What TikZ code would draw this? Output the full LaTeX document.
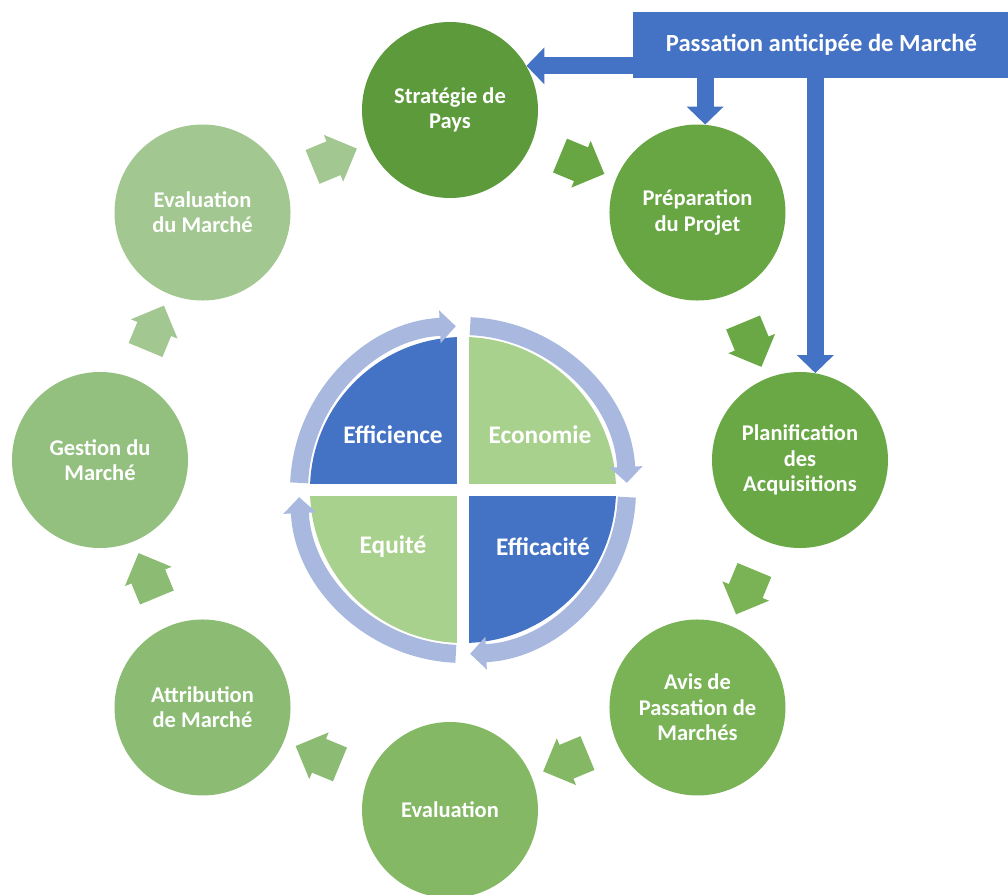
\documentclass[tikz,border=0pt]{standalone}
\usepackage{fontspec}
\setmainfont{Carlito}
\usetikzlibrary{shapes.arrows, arrows.meta, positioning, calc}
\definecolor{bannerblue}{HTML}{4472C4}
\definecolor{ringblue}{HTML}{A9B8DE}
\definecolor{quadgreen}{HTML}{A9D18E}
\definecolor{greenA}{HTML}{5C9A3B}
\definecolor{greenB}{HTML}{67A642}
\definecolor{greenC}{HTML}{6AA846}
\definecolor{greenD}{HTML}{7AB356}
\definecolor{greenE}{HTML}{84B865}
\definecolor{greenF}{HTML}{8CBC74}
\definecolor{greenG}{HTML}{93C07F}
\definecolor{greenH}{HTML}{A2C791}
\tikzset{
  stage/.style={
    circle, minimum size=44mm, inner sep=0pt,
    align=center, text=white,
    font=\fontsize{16}{18}\selectfont\bfseries,
  },
  chevron/.style={
    single arrow, minimum height=12mm, minimum width=12.5mm,
    single arrow head extend=1.75mm, inner xsep=0pt, inner ysep=4.5mm,
  },
  quadlabel/.style={text=white, font=\fontsize{18}{21}\selectfont\bfseries},
  banner/.style={
    rectangle, fill=bannerblue, text=white,
    minimum width=94.25mm, minimum height=16.5mm,
    font=\fontsize{17.5}{20}\selectfont\bfseries,
  },
  cyclearrow/.style={ringblue, line width=4.5mm, -{Triangle[width=8mm, length=4mm]}},
  linkarrow/.style={bannerblue, line width=4.25mm, -{Triangle[width=9mm, length=4.5mm]}},
}

\begin{document}
\begin{tikzpicture}[x=0.25mm, y=0.25mm]
  \useasboundingbox (-450,-435) rectangle (558,460);

  % procurement cycle
  \node[stage, fill=greenA] (strat) at (90:350) {Stratégie de\\Pays};
  \node[stage, fill=greenB] (prep) at (45:350) {Préparation\\du Projet};
  \node[stage, fill=greenC] (plan) at (0:350) {Planification\\des\\Acquisitions};
  \node[stage, fill=greenD] (avis) at (-45:350) {Avis de\\Passation de\\Marchés};
  \node[stage, fill=greenE] (eval) at (-90:350) {Evaluation};
  \node[stage, fill=greenF] (attr) at (-135:350) {Attribution\\de Marché};
  \node[stage, fill=greenG] (gest) at (180:350) {Gestion du\\Marché};
  \node[stage, fill=greenH] (evm) at (135:350) {Evaluation\\du Marché};

  \node[chevron, fill=greenB, rotate=-22.5] (c1) at ($(strat)!0.5!(prep)$) {};
  \node[chevron, fill=greenC, rotate=-67.5] (c2) at ($(prep)!0.5!(plan)$) {};
  \node[chevron, fill=greenD, rotate=-112.5] (c3) at ($(plan)!0.5!(avis)$) {};
  \node[chevron, fill=greenE, rotate=-157.5] (c4) at ($(avis)!0.5!(eval)$) {};
  \node[chevron, fill=greenF, rotate=157.5] (c5) at ($(eval)!0.5!(attr)$) {};
  \node[chevron, fill=greenF, rotate=112.5] (c6) at ($(attr)!0.5!(gest)$) {};
  \node[chevron, fill=greenH, rotate=67.5] (c7) at ($(gest)!0.5!(evm)$) {};
  \node[chevron, fill=greenH, rotate=22.5] (c8) at ($(evm)!0.5!(strat)$) {};

  % the four E's in the middle
  \coordinate (hub) at (13,-30);
  \fill[bannerblue] (hub) -- ++(180:153) arc[start angle=180, end angle=90, radius=153] -- cycle;
  \fill[quadgreen] (hub) -- ++(90:153) arc[start angle=90, end angle=0, radius=153] -- cycle;
  \fill[bannerblue] (hub) -- ++(0:153) arc[start angle=0, end angle=-90, radius=153] -- cycle;
  \fill[quadgreen] (hub) -- ++(-90:153) arc[start angle=-90, end angle=-180, radius=153] -- cycle;
  \draw[white, line width=3mm] ($(hub)+(-160,0)$) -- ($(hub)+(160,0)$);
  \draw[white, line width=3mm] ($(hub)+(0,-160)$) -- ($(hub)+(0,160)$);

  \draw[cyclearrow] ($(hub)+(177.5:164)$) arc[start angle=177.5, end angle=92.5, radius=164];
  \draw[cyclearrow] ($(hub)+(87.5:164)$) arc[start angle=87.5, end angle=2.5, radius=164];
  \draw[cyclearrow] ($(hub)+(-2.5:164)$) arc[start angle=-2.5, end angle=-87.5, radius=164];
  \draw[cyclearrow] ($(hub)+(-92.5:164)$) arc[start angle=-92.5, end angle=-177.5, radius=164];

  \node[quadlabel] (effi) at ($(hub)+(-70,55)$) {Efficience};
  \node[quadlabel] (econ) at ($(hub)+(77,55)$) {Economie};
  \node[quadlabel] (equi) at ($(hub)+(-70,-57)$) {Equité};
  \node[quadlabel] (effa) at ($(hub)+(80,-57)$) {Efficacité};

  % early procurement
  \node[banner] (early) at (371.5,415) {Passation anticipée de Marché};
  \draw[linkarrow] (early.west |- strat.30) -- (strat.30);
  \draw[linkarrow] (early.south -| prep.85) -- (prep.85);
  \draw[linkarrow] (early.south -| plan.80) -- (plan.80);

\end{tikzpicture}
\end{document}
